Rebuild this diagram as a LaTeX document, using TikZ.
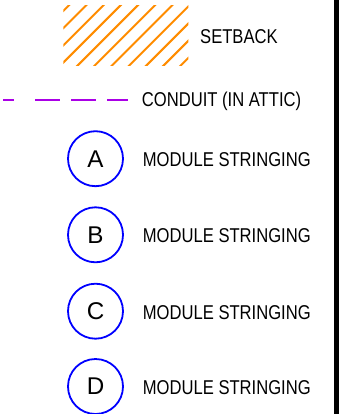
\documentclass[tikz,border=0pt]{standalone}
\usepackage{fontspec}
\setmainfont{Liberation Sans}
\newfontfamily\legendfont[FakeStretch=0.83]{Liberation Sans}
\definecolor{hatchorange}{RGB}{255,140,0}
\definecolor{conduitpurple}{RGB}{170,0,230}
\definecolor{tagblue}{RGB}{0,0,255}
\begin{document}
\begin{tikzpicture}[x=1pt,y=-1pt,
  lbl/.style={anchor=base west, inner sep=0pt, font=\legendfont\fontsize{20}{22}\selectfont},
  tag/.style={circle, draw=tagblue, line width=1.8pt, minimum size=55pt, inner sep=0pt, font=\fontsize{24.2}{26}\selectfont},
  hatchline/.style={draw=hatchorange, line width=2pt},
  conduitline/.style={draw=conduitpurple, line width=2pt, dash pattern=on 11pt off 21pt on 25pt off 11pt on 25pt off 11pt on 21pt off 50pt},
  border/.style={draw=black, line width=4.3pt}]
\useasboundingbox (0,0) rectangle (354,414);
% setback hatch
\begin{scope}
  \clip (63.3,6) rectangle (188.3,66);
  \foreach \k in {0,...,10} {
    \pgfmathsetmacro\c{74.3+17.2*\k}
    \draw[hatchline] (\c-80,80) -- (\c,0);
  }
\end{scope}
\node[lbl] (setback) at (200,43.3) {SETBACK};
% conduit
\coordinate (c1) at (3.3,100.5);
\coordinate (c2) at (128.3,100.5);
\draw[conduitline] (c1) -- (c2);
\node[lbl] (conduit) at (141.7,106.5) {CONDUIT (IN ATTIC)};
% module stringing tags
\node[tag] (tagA) at (95.5,158.7) {A};
\node[lbl] (labA) at (142.7,166) {MODULE STRINGING};
\node[tag] (tagB) at (95.5,234.8) {B};
\node[lbl] (labB) at (142.7,242.3) {MODULE STRINGING};
\node[tag] (tagC) at (95.5,311.2) {C};
\node[lbl] (labC) at (142.7,319.3) {MODULE STRINGING};
\node[tag] (tagD) at (95.5,386.5) {D};
\node[lbl] (labD) at (142.7,394.3) {MODULE STRINGING};
% right border
\coordinate (b1) at (336.5,0);
\coordinate (b2) at (336.5,414);
\draw[border] (b1) -- (b2);
\end{tikzpicture}
\end{document}
